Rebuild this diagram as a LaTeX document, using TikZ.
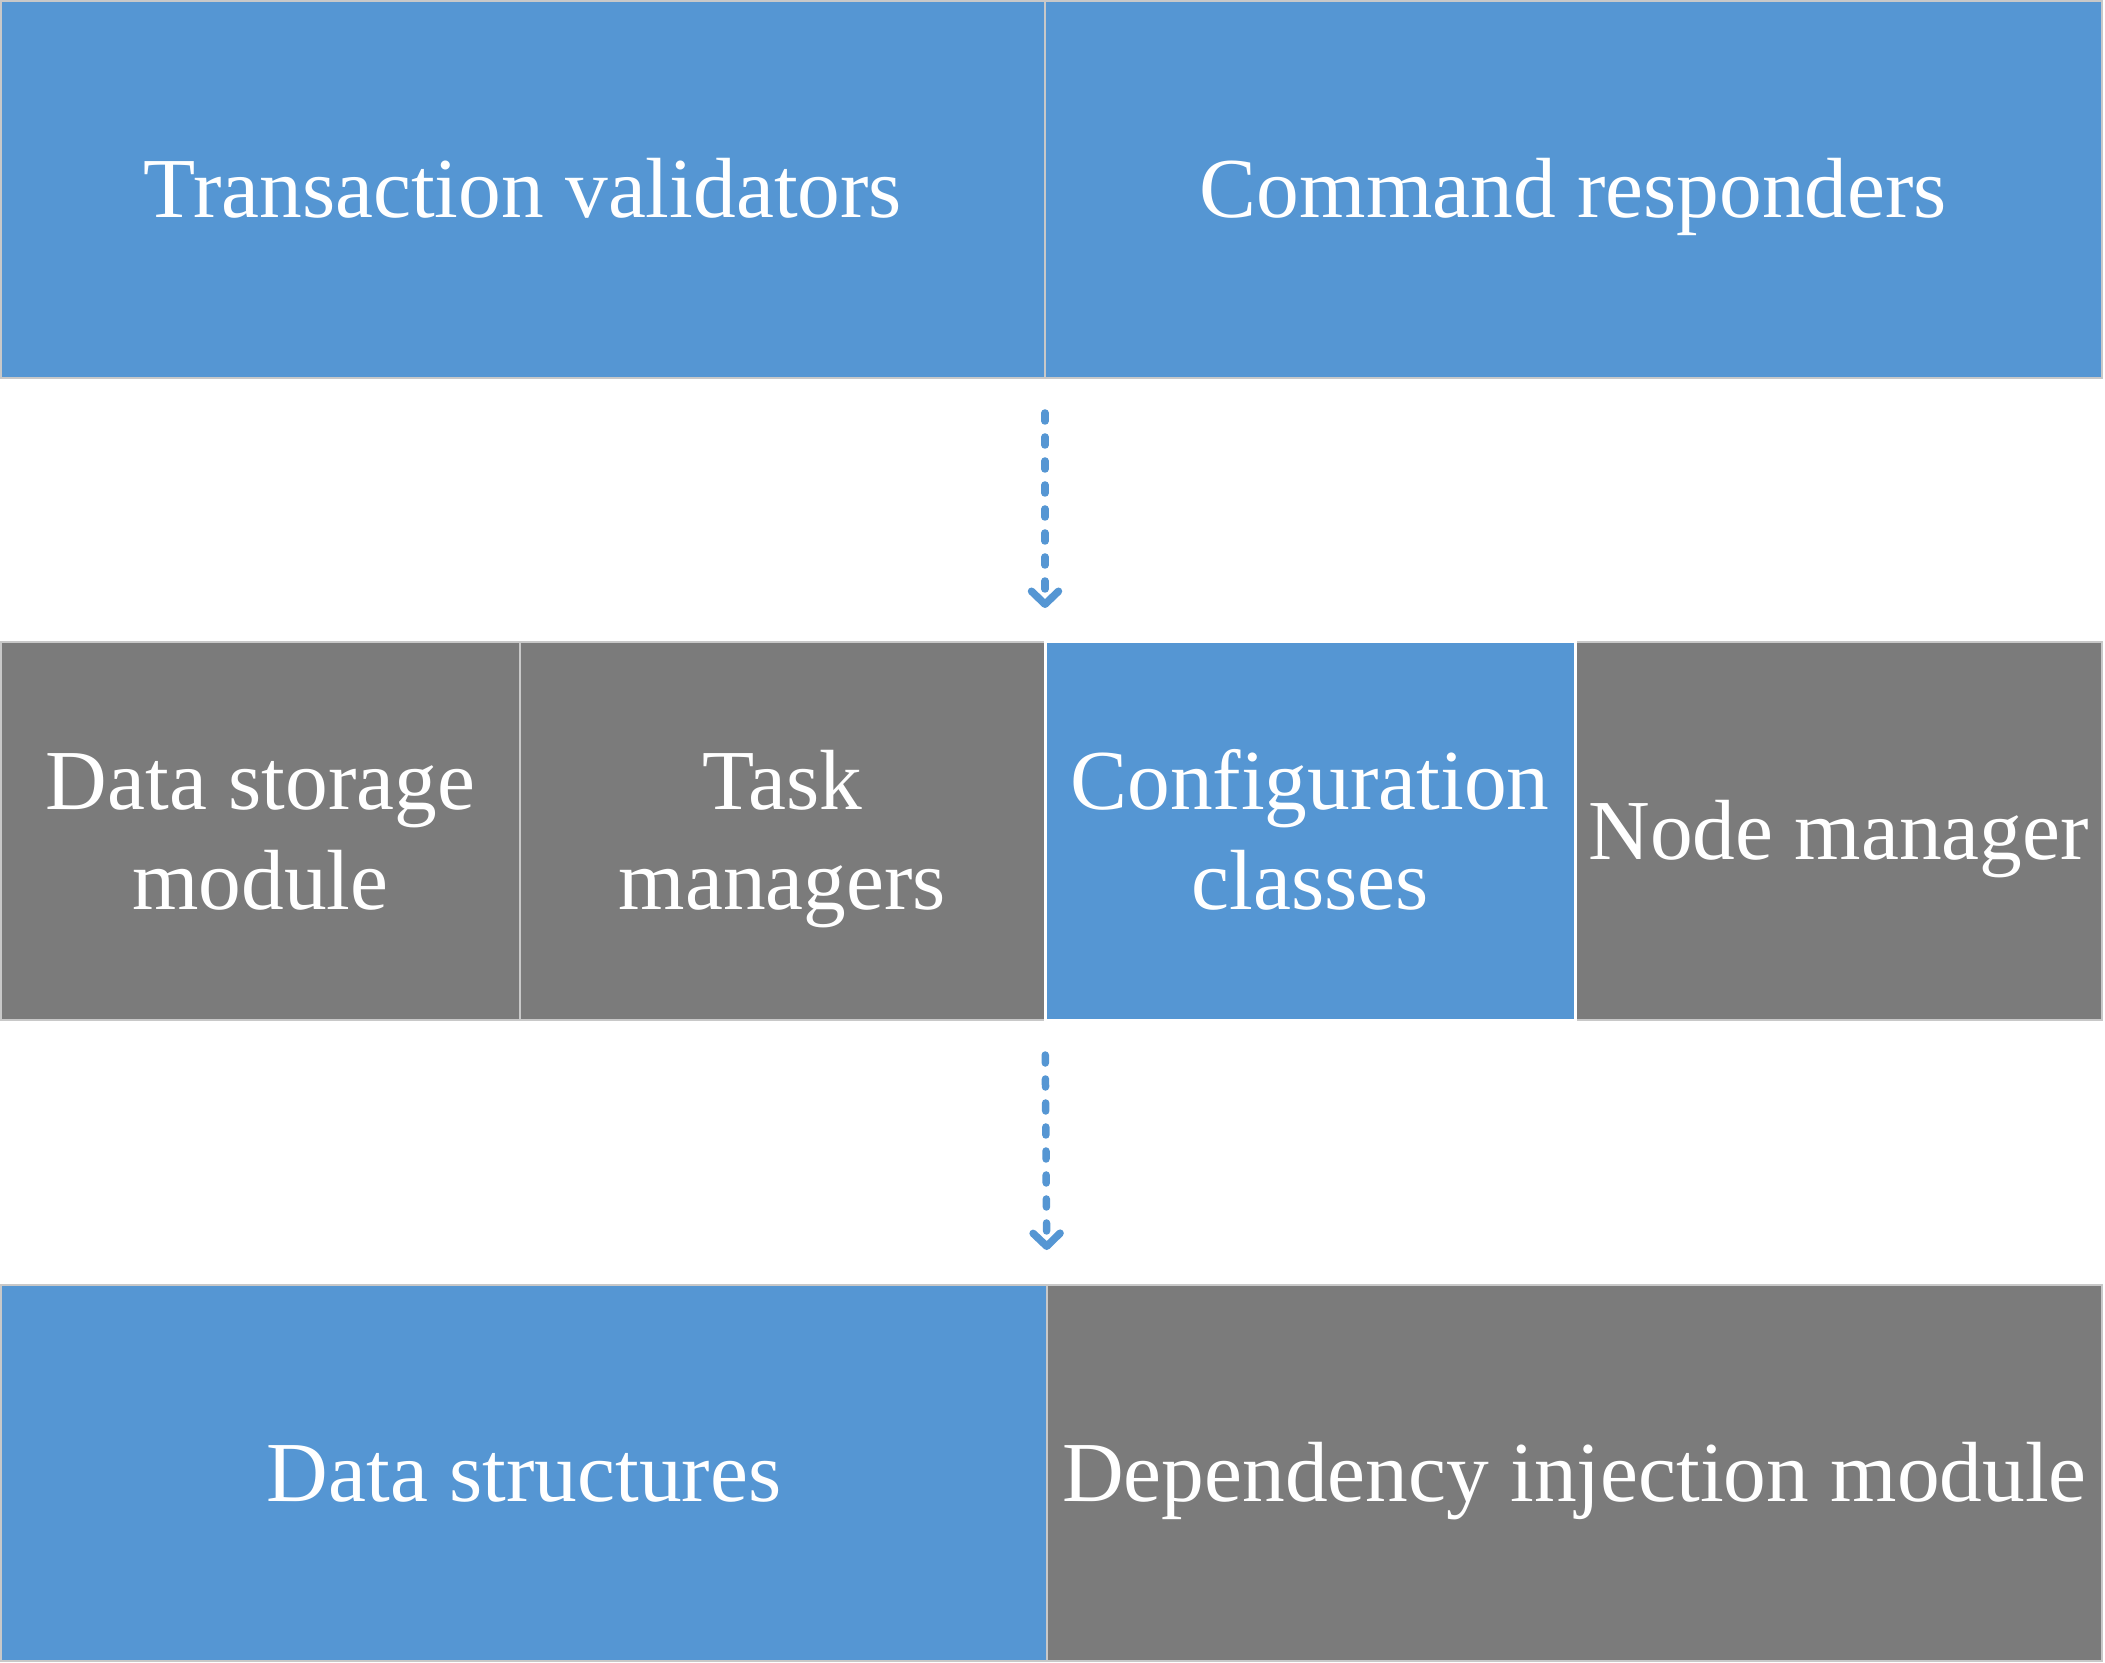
\documentclass[tikz,border=0pt]{standalone}
\usepackage{fontspec}
\setmainfont{Liberation Serif}
\usetikzlibrary{arrows.meta}
\definecolor{boxblue}{HTML}{5596D3}
\definecolor{boxgray}{HTML}{7B7B7B}
\definecolor{edgegray}{HTML}{C8C8C8}
\tikzset{
  cell/.style={rectangle, draw=edgegray, line width=0.75pt, text=white,
    font=\fontsize{42.7}{50}\selectfont, inner sep=0pt, outer sep=0pt,
    text height=28pt, text depth=0pt},
  twoline/.style={align=center, text height=78pt, text depth=0pt},
  bluecell/.style={cell, fill=boxblue},
  graycell/.style={cell, fill=boxgray},
  conn/.style={draw=boxblue, line width=3.75pt, line cap=round,
    dash pattern=on 4pt off 8pt,
    -{Straight Barb[length=6.5pt, width=13.5pt, line cap=round, line join=round]}}
}
\begin{document}
\begin{tikzpicture}[x=0.5pt, y=-0.5pt]
\useasboundingbox (0,0) rectangle (2105,1663);
% top row
\node[bluecell, minimum width=522pt, minimum height=188.5pt] (tv) at (523,189.5) {Transaction validators};
\node[bluecell, minimum width=528.5pt, minimum height=188.5pt] (cr) at (1573.5,189.5) {Command responders};
% middle row
\node[graycell, twoline, minimum width=259.5pt, minimum height=189pt] (ds) at (260.5,831) {Data storage\\module};
\node[graycell, twoline, minimum width=262.5pt, minimum height=189pt] (tm) at (782.5,831) {Task\\managers};
\node[graycell, minimum width=263.5pt, minimum height=189pt] (nm) at (1838.5,831) {Node manager};
\node[bluecell, twoline, draw=white, line width=1.5pt, minimum width=265pt, minimum height=189pt] (cc) at (1310,831) {Configuration\\classes};
% bottom row
\node[bluecell, minimum width=523pt, minimum height=188pt] (dstr) at (524,1473) {Data structures};
\node[graycell, minimum width=527.5pt, minimum height=188pt] (di) at (1574.5,1473) {Dependency injection module};
% connectors
\draw[conn, shorten <=17.5pt, shorten >=17pt] (tv.south east) -- (tm.north east);
\draw[conn, shorten <=17.5pt, shorten >=17.5pt] (cc.south west) -- (di.north west);
\end{tikzpicture}
\end{document}
